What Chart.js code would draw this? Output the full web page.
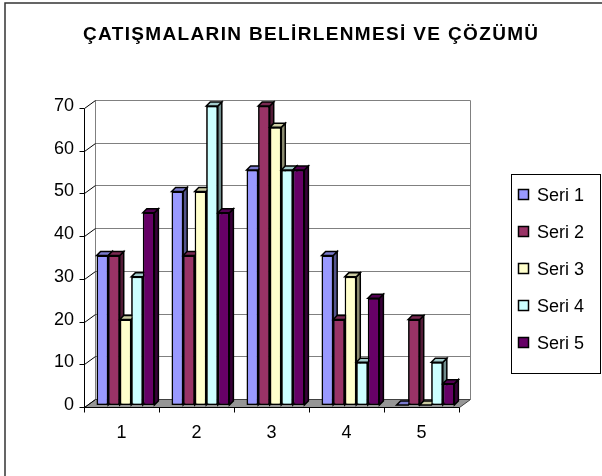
<!DOCTYPE html>
<html lang="tr">
<head>
<meta charset="UTF-8">
<title>Çatışmaların Belirlenmesi ve Çözümü</title>
<script src="https://cdn.jsdelivr.net/npm/chart.js"></script>
<style>
  body { margin: 0; background: #fff; }
  canvas { display: block; }
</style>
</head>
<body>
<canvas id="chart" width="602" height="476"></canvas>
<script>
const categories = ['1', '2', '3', '4', '5'];
const seriesNames = ['Seri 1', 'Seri 2', 'Seri 3', 'Seri 4', 'Seri 5'];
const seri1 = [35, 50, 55, 35, 0];
const seri2 = [35, 35, 70, 20, 20];
const seri3 = [20, 50, 65, 30, 0];
const seri4 = [30, 70, 55, 10, 10];
const seri5 = [45, 45, 55, 25, 5];
const yTicks = [0, 10, 20, 30, 40, 50, 60, 70];
const seriesColors = ['#9999FF', '#993366', '#FFFFCC', '#CCFFFF', '#660066'];
const chartTitle = 'ÇATIŞMALARIN BELİRLENMESİ VE ÇÖZÜMÜ';

const FONT = 'Arial, "Liberation Sans", sans-serif';

// depth of each column, and where the front axis / back wall sit relative to the bars
const BAR_DX = 4, BAR_DY = 4;
const FRONT_DX = -4, FRONT_DY = 2;
const BACK_DX = 7, BACK_DY = -6;

function shade(hex, f) {
  const n = parseInt(hex.slice(1), 16);
  const r = Math.round(((n >> 16) & 255) * f);
  const g = Math.round(((n >> 8) & 255) * f);
  const b = Math.round((n & 255) * f);
  return `rgb(${r},${g},${b})`;
}

function poly(ctx, pts, fill, stroke) {
  ctx.beginPath();
  ctx.moveTo(pts[0][0], pts[0][1]);
  for (let i = 1; i < pts.length; i++) ctx.lineTo(pts[i][0], pts[i][1]);
  ctx.closePath();
  if (fill) { ctx.fillStyle = fill; ctx.fill(); }
  if (stroke) { ctx.strokeStyle = stroke; ctx.stroke(); }
}

function line(ctx, x1, y1, x2, y2, color) {
  ctx.beginPath();
  ctx.moveTo(x1, y1);
  ctx.lineTo(x2, y2);
  ctx.strokeStyle = color;
  ctx.stroke();
}

// walls, floor, gridlines and axis lines
const frame3d = {
  id: 'frame3d',
  beforeDatasetsDraw(chart) {
    const { ctx, chartArea: a, scales: { y } } = chart;
    const fy = v => Math.round(y.getPixelForValue(v) + FRONT_DY) + 0.5;
    const by = v => Math.round(y.getPixelForValue(v) + BACK_DY) + 0.5;
    const fxl = Math.round(a.left + FRONT_DX) + 0.5;
    const fxr = Math.round(a.right + FRONT_DX) + 0.5;
    const bxl = Math.round(a.left + BACK_DX) + 0.5;
    const bxr = Math.round(a.right + BACK_DX) + 0.5;
    const top = yTicks[yTicks.length - 1];
    ctx.save();
    ctx.lineWidth = 1;

    // floor
    poly(ctx, [[fxl, fy(0)], [fxr, fy(0)], [bxr, by(0)], [bxl, by(0)]], '#969696', '#404040');

    // back wall gridlines
    yTicks.forEach(v => {
      if (v === 0) return;
      line(ctx, bxl, by(v), bxr, by(v), '#808080');
    });
    line(ctx, bxl, by(0), bxl, by(top), '#808080');
    line(ctx, bxr, by(0), bxr, by(top), '#808080');

    // left wall edges
    yTicks.forEach(v => line(ctx, fxl, fy(v), bxl, by(v), '#000'));

    // value axis with tick marks
    line(ctx, fxl, fy(0), fxl, fy(top), '#000');
    yTicks.forEach(v => line(ctx, fxl - 5, fy(v), fxl, fy(v), '#000'));

    // category axis with tick marks between groups
    line(ctx, fxl, fy(0), fxr, fy(0), '#000');
    const step = (a.right - a.left) / categories.length;
    for (let i = 0; i <= categories.length; i++) {
      const tx = Math.round(a.left + i * step + FRONT_DX) + 0.5;
      line(ctx, tx, fy(0), tx, fy(0) + 5, '#000');
    }
    ctx.restore();
  },

  // columns redrawn left to right so every column hides the side of its left neighbour
  afterDatasetsDraw(chart) {
    const ctx = chart.ctx;
    ctx.save();
    ctx.lineWidth = 1.5;
    ctx.lineJoin = 'miter';
    chart.data.datasets.forEach((ds, i) => {
      const meta = chart.getDatasetMeta(i);
      meta.data.forEach(el => {
        const { x, y, base, width } = el.getProps(['x', 'y', 'base', 'width'], true);
        const l = x - width / 2, r = x + width / 2;
        el.draw(ctx);
        poly(ctx, [[r, y], [r + BAR_DX, y - BAR_DY], [r + BAR_DX, base - BAR_DY], [r, base]],
          shade(ds.backgroundColor, 0.55), '#000');
        poly(ctx, [[l, y], [l + BAR_DX, y - BAR_DY], [r + BAR_DX, y - BAR_DY], [r, y]],
          shade(ds.backgroundColor, 0.8), '#000');
      });
    });
    ctx.restore();
  }
};

// title, boxed legend and the outer frame
const decorations = {
  id: 'decorations',
  afterDraw(chart) {
    const ctx = chart.ctx;
    ctx.save();

    ctx.font = `bold 19px ${FONT}`;
    ctx.fillStyle = '#000';
    ctx.textAlign = 'left';
    ctx.textBaseline = 'alphabetic';
    const w0 = ctx.measureText(chartTitle).width;
    const gap = Math.max(0, (455 - w0) / (chartTitle.length - 1));
    ctx.letterSpacing = gap.toFixed(2) + 'px';
    ctx.fillText(chartTitle, 83, 40);
    ctx.letterSpacing = '0px';

    ctx.lineWidth = 1;
    ctx.strokeStyle = '#000';
    ctx.strokeRect(511.5, 174.5, 89, 199);
    ctx.font = `18px ${FONT}`;
    ctx.textBaseline = 'middle';
    ctx.lineWidth = 1.5;
    chart.data.datasets.forEach((ds, i) => {
      const cy = 195 + i * 37;
      ctx.fillStyle = ds.backgroundColor;
      ctx.fillRect(518.5, cy - 5.5, 10, 10);
      ctx.strokeRect(518.5, cy - 5.5, 10, 10);
      ctx.fillStyle = '#000';
      ctx.fillText(ds.label, 537, cy + 1);
    });

    ctx.lineWidth = 1.5;
    ctx.strokeStyle = '#333';
    ctx.strokeRect(5, 3, 640, 520);
    ctx.restore();
  }
};

const seriesData = [seri1, seri2, seri3, seri4, seri5];

new Chart(document.getElementById('chart'), {
  type: 'bar',
  data: {
    labels: categories,
    datasets: seriesData.map((values, i) => ({
      label: seriesNames[i],
      data: values,
      backgroundColor: seriesColors[i],
      borderColor: '#000',
      borderWidth: 1.5,
      borderSkipped: false,
      categoryPercentage: 0.77,
      barPercentage: 1
    }))
  },
  options: {
    responsive: false,
    animation: false,
    layout: { padding: { top: 106, right: 139, bottom: 0, left: 0 } },
    plugins: {
      legend: { display: false },
      title: { display: false },
      tooltip: { enabled: false }
    },
    scales: {
      x: {
        grid: { display: false, drawTicks: false },
        border: { display: false },
        ticks: { font: { family: FONT, size: 18 }, color: '#000', padding: 17, labelOffset: FRONT_DX },
        afterFit(scale) { scale.height = 71; }
      },
      y: {
        min: 0,
        max: 70,
        grid: { display: false, drawTicks: false },
        border: { display: false },
        ticks: { stepSize: 10, font: { family: FONT, size: 18 }, color: '#000', padding: 14 },
        afterFit(scale) { scale.width = 88; }
      }
    }
  },
  plugins: [frame3d, decorations]
});
</script>
</body>
</html>
